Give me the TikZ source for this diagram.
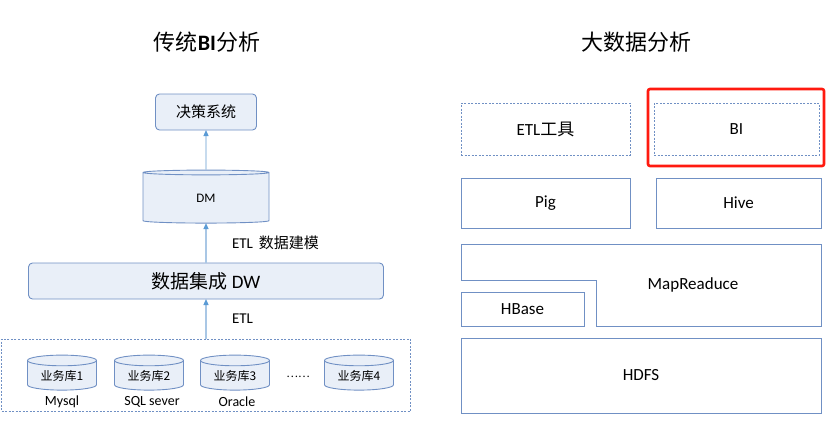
\documentclass[tikz,border=0pt]{standalone}
\usepackage{fontspec}
\setmainfont{Carlito}
\newfontfamily\cjk{Noto Sans CJK SC}
\usetikzlibrary{shapes.geometric,arrows.meta}

\definecolor{boxline}{HTML}{7090C4}
\definecolor{boxfill}{HTML}{E9EFF8}
\definecolor{arrowline}{HTML}{A9C7E5}
\definecolor{arrowtip}{HTML}{5B9BD5}
\definecolor{markred}{HTML}{FF1A0F}

\tikzset{
  rbox/.style={draw=boxline, fill=boxfill, rounded corners=4pt, line width=0.9pt},
  dbase/.style={cylinder, shape border rotate=90, aspect=0.25, draw=boxline, fill=boxfill, line width=0.9pt},
  flow/.style={draw=arrowline, line width=1.2pt, -{Triangle[width=5pt,length=6pt,color=arrowtip]}},
  layer/.style={draw=boxline, line width=0.9pt},
  dashbox/.style={layer, dash pattern=on 2pt off 1.5pt},
}

\begin{document}
\begin{tikzpicture}[x=1pt, y=-1pt, inner sep=0pt, outer sep=0pt]
  \useasboundingbox (0,0) rectangle (832,442);

  % titles
  \node[font=\fontsize{22}{26}\selectfont] (ttrad) at (207,42) {{\cjk 传统}\textbf{BI}{\cjk 分析}};
  \node[font=\fontsize{22}{26}\selectfont\cjk] (tbig) at (636,42) {大数据分析};

  % traditional BI
  \node[rbox, minimum width=101, minimum height=36, font=\fontsize{15}{18}\selectfont\cjk] (dec) at (206,112) {决策系统};
  \node[dbase, minimum width=126, minimum height=53, font=\fontsize{13}{16}\selectfont] (dm) at (206,198) {DM};
  \node[rbox, minimum width=355, minimum height=36, font=\fontsize{19}{22}\selectfont] (dw) at (206,281) {{\cjk 数据集成} DW};
  \node[dashbox, minimum width=409, minimum height=72] (src) at (206,375) {};

  \foreach \i/\x in {1/62, 2/149, 3/235, 4/359}
    \node[dbase, minimum width=69, minimum height=35, font=\fontsize{12}{14}\selectfont\cjk] (db\i) at (\x,375.5) {业务库\i};
  \foreach \x/\sub in {62/Mysql, 152/SQL sever, 237/Oracle}
    \node[font=\fontsize{14}{16}\selectfont] at (\x,402) {\sub};
  \node[font=\fontsize{11}{13}\selectfont\cjk] (dots) at (298,377) {……};

  \draw[flow] (dm.north) -- (dec.south);
  \draw[flow] (dw.north) -- (dm.south) node[midway, right=26pt, font=\fontsize{15}{18}\selectfont] {ETL\hspace{6pt}{\cjk 数据建模}};
  \draw[flow] (src.north) -- (dw.south) node[midway, right=26pt, font=\fontsize{15}{18}\selectfont] {ETL};

  % big data
  \node[dashbox, minimum width=169, minimum height=52, font=\fontsize{17}{20}\selectfont] (etl) at (545.5,129) {ETL{\cjk 工具}};
  \node[dashbox, minimum width=165, minimum height=52, font=\fontsize{17}{20}\selectfont] (bi) at (736.5,129) {BI};
  \node[draw=markred, line width=2.6pt, rounded corners=2pt, minimum width=176, minimum height=77] (mark) at (736,127.5) {};
  \node[layer, minimum width=169, minimum height=50, font=\fontsize{17}{20}\selectfont] (pig) at (545.5,203) {Pig};
  \node[layer, minimum width=165, minimum height=50, font=\fontsize{17}{20}\selectfont] (hive) at (738.5,203) {Hive};
  \draw[layer] (461,244) -- (821,244) -- (821,326) -- (596,326) -- (596,280) -- (461,280) -- cycle;
  \node[font=\fontsize{17}{20}\selectfont] (mr) at (693,285) {MapReaduce};
  \node[layer, minimum width=123, minimum height=34, font=\fontsize{17}{20}\selectfont] (hbase) at (522.5,309) {HBase};
  \node[layer, minimum width=360, minimum height=75, font=\fontsize{17}{20}\selectfont] (hdfs) at (641,375.5) {HDFS};
\end{tikzpicture}
\end{document}
